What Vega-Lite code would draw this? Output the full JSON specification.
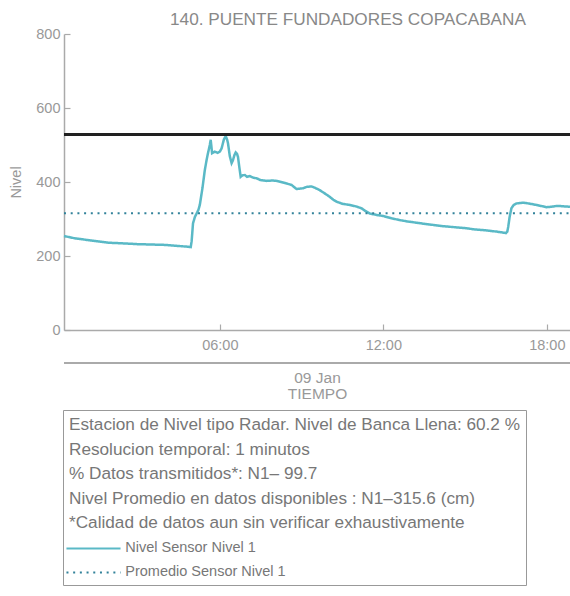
{
  "$schema": "https://vega.github.io/schema/vega-lite/v6.json",
  "background": "white",
  "autosize": {"type": "none"},
  "width": 506,
  "height": 296,
  "padding": {"left": 64, "top": 34, "right": 0, "bottom": 266},
  "title": {"text": "140. PUENTE FUNDADORES COPACABANA", "fontSize": 17.2, "color": "#888888", "fontWeight": "normal", "font": "Liberation Sans", "anchor": "middle", "dx": 31, "offset": -2},
  "config": {
    "view": {"stroke": null},
    "axis": {"grid": false, "labelFont": "Liberation Sans", "titleFont": "Liberation Sans", "titleFontWeight": "normal", "domainColor": "#aaaaaa", "tickColor": "#aaaaaa", "labelColor": "#999999", "titleColor": "#999999", "domainWidth": 1.5, "tickWidth": 1.2}
  },
  "data": {"values": [
      {"t": "2023-01-09T00:17:00", "nivel": 254},
      {"t": "2023-01-09T00:40:00", "nivel": 248},
      {"t": "2023-01-09T01:10:00", "nivel": 243},
      {"t": "2023-01-09T01:54:00", "nivel": 236},
      {"t": "2023-01-09T02:30:00", "nivel": 234},
      {"t": "2023-01-09T03:00:00", "nivel": 232},
      {"t": "2023-01-09T03:30:00", "nivel": 231},
      {"t": "2023-01-09T03:59:00", "nivel": 230},
      {"t": "2023-01-09T04:30:00", "nivel": 227},
      {"t": "2023-01-09T04:50:00", "nivel": 225},
      {"t": "2023-01-09T04:56:00", "nivel": 224},
      {"t": "2023-01-09T04:58:00", "nivel": 240},
      {"t": "2023-01-09T05:01:00", "nivel": 288},
      {"t": "2023-01-09T05:05:00", "nivel": 305},
      {"t": "2023-01-09T05:09:00", "nivel": 315},
      {"t": "2023-01-09T05:13:00", "nivel": 325},
      {"t": "2023-01-09T05:16:00", "nivel": 338},
      {"t": "2023-01-09T05:22:00", "nivel": 385},
      {"t": "2023-01-09T05:27:00", "nivel": 432},
      {"t": "2023-01-09T05:31:00", "nivel": 460},
      {"t": "2023-01-09T05:34:00", "nivel": 478},
      {"t": "2023-01-09T05:38:00", "nivel": 500},
      {"t": "2023-01-09T05:40:00", "nivel": 514},
      {"t": "2023-01-09T05:42:00", "nivel": 490},
      {"t": "2023-01-09T05:43:00", "nivel": 478},
      {"t": "2023-01-09T05:46:00", "nivel": 480},
      {"t": "2023-01-09T05:49:00", "nivel": 482},
      {"t": "2023-01-09T05:55:00", "nivel": 479},
      {"t": "2023-01-09T06:00:00", "nivel": 482},
      {"t": "2023-01-09T06:04:00", "nivel": 491},
      {"t": "2023-01-09T06:09:00", "nivel": 515},
      {"t": "2023-01-09T06:13:00", "nivel": 524},
      {"t": "2023-01-09T06:16:00", "nivel": 515},
      {"t": "2023-01-09T06:18:00", "nivel": 505},
      {"t": "2023-01-09T06:22:00", "nivel": 470},
      {"t": "2023-01-09T06:26:00", "nivel": 451},
      {"t": "2023-01-09T06:29:00", "nivel": 459},
      {"t": "2023-01-09T06:32:00", "nivel": 472},
      {"t": "2023-01-09T06:35:00", "nivel": 480},
      {"t": "2023-01-09T06:38:00", "nivel": 476},
      {"t": "2023-01-09T06:40:00", "nivel": 468},
      {"t": "2023-01-09T06:43:00", "nivel": 440},
      {"t": "2023-01-09T06:46:00", "nivel": 414},
      {"t": "2023-01-09T06:50:00", "nivel": 418},
      {"t": "2023-01-09T06:55:00", "nivel": 419},
      {"t": "2023-01-09T07:00:00", "nivel": 414},
      {"t": "2023-01-09T07:06:00", "nivel": 416},
      {"t": "2023-01-09T07:13:00", "nivel": 412},
      {"t": "2023-01-09T07:21:00", "nivel": 410},
      {"t": "2023-01-09T07:30:00", "nivel": 405},
      {"t": "2023-01-09T07:43:00", "nivel": 403},
      {"t": "2023-01-09T07:55:00", "nivel": 404},
      {"t": "2023-01-09T08:05:00", "nivel": 403},
      {"t": "2023-01-09T08:15:00", "nivel": 400},
      {"t": "2023-01-09T08:27:00", "nivel": 396},
      {"t": "2023-01-09T08:38:00", "nivel": 392},
      {"t": "2023-01-09T08:49:00", "nivel": 381},
      {"t": "2023-01-09T08:56:00", "nivel": 382},
      {"t": "2023-01-09T09:03:00", "nivel": 383},
      {"t": "2023-01-09T09:12:00", "nivel": 387},
      {"t": "2023-01-09T09:22:00", "nivel": 388},
      {"t": "2023-01-09T09:30:00", "nivel": 384},
      {"t": "2023-01-09T09:40:00", "nivel": 378},
      {"t": "2023-01-09T09:50:00", "nivel": 370},
      {"t": "2023-01-09T10:02:00", "nivel": 360},
      {"t": "2023-01-09T10:10:00", "nivel": 352},
      {"t": "2023-01-09T10:17:00", "nivel": 347},
      {"t": "2023-01-09T10:30:00", "nivel": 341},
      {"t": "2023-01-09T10:46:00", "nivel": 338},
      {"t": "2023-01-09T11:00:00", "nivel": 334},
      {"t": "2023-01-09T11:12:00", "nivel": 329},
      {"t": "2023-01-09T11:20:00", "nivel": 322},
      {"t": "2023-01-09T11:30:00", "nivel": 315},
      {"t": "2023-01-09T11:45:00", "nivel": 311},
      {"t": "2023-01-09T12:00:00", "nivel": 308},
      {"t": "2023-01-09T12:18:00", "nivel": 302},
      {"t": "2023-01-09T12:36:00", "nivel": 297},
      {"t": "2023-01-09T12:55:00", "nivel": 293},
      {"t": "2023-01-09T13:13:00", "nivel": 290},
      {"t": "2023-01-09T13:30:00", "nivel": 287},
      {"t": "2023-01-09T13:50:00", "nivel": 284},
      {"t": "2023-01-09T14:08:00", "nivel": 281},
      {"t": "2023-01-09T14:26:00", "nivel": 279},
      {"t": "2023-01-09T14:45:00", "nivel": 277},
      {"t": "2023-01-09T15:03:00", "nivel": 275},
      {"t": "2023-01-09T15:20:00", "nivel": 272},
      {"t": "2023-01-09T15:40:00", "nivel": 270},
      {"t": "2023-01-09T15:55:00", "nivel": 268},
      {"t": "2023-01-09T16:09:00", "nivel": 266},
      {"t": "2023-01-09T16:20:00", "nivel": 264},
      {"t": "2023-01-09T16:30:00", "nivel": 262},
      {"t": "2023-01-09T16:33:00", "nivel": 266},
      {"t": "2023-01-09T16:35:00", "nivel": 279},
      {"t": "2023-01-09T16:38:00", "nivel": 305},
      {"t": "2023-01-09T16:42:00", "nivel": 329},
      {"t": "2023-01-09T16:47:00", "nivel": 338},
      {"t": "2023-01-09T16:53:00", "nivel": 342},
      {"t": "2023-01-09T17:00:00", "nivel": 343},
      {"t": "2023-01-09T17:08:00", "nivel": 344},
      {"t": "2023-01-09T17:20:00", "nivel": 342},
      {"t": "2023-01-09T17:37:00", "nivel": 338},
      {"t": "2023-01-09T17:48:00", "nivel": 335},
      {"t": "2023-01-09T17:59:00", "nivel": 332},
      {"t": "2023-01-09T18:10:00", "nivel": 333},
      {"t": "2023-01-09T18:20:00", "nivel": 335},
      {"t": "2023-01-09T18:29:00", "nivel": 335},
      {"t": "2023-01-09T18:40:00", "nivel": 334},
      {"t": "2023-01-09T18:51:00", "nivel": 333}
  ]},
  "layer": [
    {
      "mark": {"type": "line", "strokeWidth": 2.5},
      "encoding": {
        "x": {"field": "t", "type": "temporal", "scale": {"nice": false},
          "axis": {"title": ["09 Jan", "TIEMPO"], "titleFontSize": 15.5, "titleLineHeight": 16, "titlePadding": 19, "format": "%H:%M", "tickCount": 3, "tickSize": -6, "labelPadding": 14, "labelFontSize": 14.5, "labelFlush": false}},
        "y": {"field": "nivel", "type": "quantitative",
          "scale": {"domain": [0, 800]},
          "axis": {"values": [0, 200, 400, 600, 800], "title": "Nivel", "titleFontSize": 14.5, "titlePadding": 12, "tickSize": -6, "labelPadding": 10, "labelFontSize": 14.5, "labelFlush": false}},
        "color": {"datum": "Nivel Sensor Nivel 1",
          "scale": {"domain": ["Nivel Sensor Nivel 1", "Promedio Sensor Nivel 1"], "range": ["#5ab9c6", "#32829a"]},
          "legend": {
            "orient": "none", "legendX": -1, "legendY": 376, "padding": 6, "strokeColor": "#999999",
            "title": ["Estacion de Nivel tipo Radar. Nivel de Banca Llena: 60.2 %", "Resolucion temporal: 1 minutos", "% Datos transmitidos*: N1\u2013 99.7", "Nivel Promedio en datos disponibles : N1\u2013315.6 (cm)", "*Calidad de datos aun sin verificar exhaustivamente"],
            "titleFont": "Liberation Sans", "titleFontSize": 17.2, "titleFontWeight": "normal", "titleColor": "#777777", "titleLineHeight": 24.5, "titleLimit": 1000, "titlePadding": 10,
            "labelFont": "Liberation Sans", "labelFontSize": 14.5, "labelColor": "#777777", "labelLimit": 400, "labelOffset": 24.5,
            "symbolType": "M-5,0H5", "symbolSize": 117, "symbolStrokeWidth": 2, "symbolOffset": 17.25, "rowPadding": 9
          }},
        "strokeDash": {"datum": "Nivel Sensor Nivel 1",
          "scale": {"domain": ["Nivel Sensor Nivel 1", "Promedio Sensor Nivel 1"], "range": [[1, 0], [2, 4.7]]}}
      }
    },
    {
      "mark": {"type": "line", "strokeWidth": 2},
      "encoding": {
        "x": {"field": "t", "type": "temporal"},
        "y": {"datum": 315.6},
        "color": {"datum": "Promedio Sensor Nivel 1"},
        "strokeDash": {"datum": "Promedio Sensor Nivel 1"}
      }
    },
    {
      "mark": {"type": "rule", "color": "#222222", "strokeWidth": 2},
      "encoding": {"y": {"datum": 529}}
    },
    {
      "mark": {"type": "rule", "color": "#aaaaaa", "strokeWidth": 2},
      "encoding": {"y": {"datum": -89.2}}
    }
  ]
}
